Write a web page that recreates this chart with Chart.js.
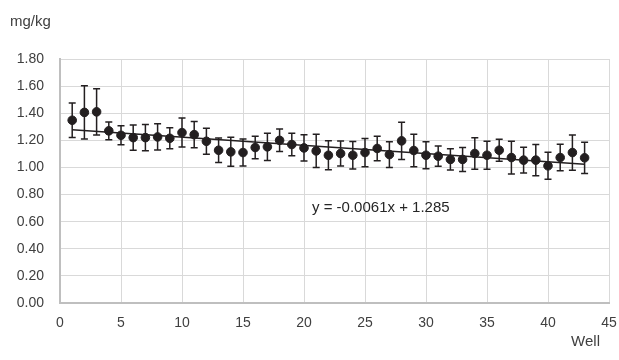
<!DOCTYPE html>
<html>
<head>
<meta charset="utf-8">
<script src="https://cdn.jsdelivr.net/npm/chart.js@4/dist/chart.umd.min.js"></script>
<style>
  html, body { margin: 0; padding: 0; background: #fff; }
  #wrap { width: 619px; height: 360px; position: relative; }
</style>
</head>
<body>
<div id="wrap"><canvas id="wellChart"></canvas></div>
<script>
const wells = [1,2,3,4,5,6,7,8,9,10,11,12,13,14,15,16,17,18,19,20,21,22,23,24,25,26,27,28,29,30,31,32,33,34,35,36,37,38,39,40,41,42,43];
const means = [1.348,1.406,1.41,1.27,1.237,1.22,1.22,1.225,1.215,1.257,1.242,1.193,1.127,1.115,1.11,1.147,1.152,1.2,1.169,1.144,1.122,1.09,1.103,1.09,1.11,1.14,1.095,1.196,1.125,1.09,1.083,1.059,1.059,1.103,1.09,1.127,1.073,1.054,1.054,1.012,1.073,1.11,1.071];
const errors = [0.128,0.196,0.17,0.065,0.07,0.094,0.097,0.097,0.078,0.107,0.097,0.096,0.09,0.107,0.099,0.083,0.10,0.083,0.083,0.097,0.122,0.107,0.092,0.102,0.104,0.09,0.095,0.137,0.12,0.099,0.075,0.078,0.088,0.116,0.103,0.081,0.121,0.095,0.115,0.10,0.098,0.13,0.115];

// linear trend shown on the chart
const trendSlope = -0.0061;
const trendIntercept = 1.285;
const trendLabel = 'y = -0.0061x + 1.285';

const xTicks = [0, 5, 10, 15, 20, 25, 30, 35, 40, 45];
const yTicks = [0, 0.2, 0.4, 0.6, 0.8, 1.0, 1.2, 1.4, 1.6, 1.8];

const points = wells.map((w, i) => ({ x: w, y: means[i] }));
const xFirst = wells[0], xLast = wells[wells.length - 1];
const trendPoints = [
    { x: xFirst, y: trendSlope * xFirst + trendIntercept },
    { x: xLast, y: trendSlope * xLast + trendIntercept }
];

const FONT = '"Liberation Sans", Arial, sans-serif';
const TEXT = '#404040';

// error bars drawn from the scales
const errorBars = {
    id: 'errorBars',
    afterDatasetsDraw(chart) {
        const { ctx, scales: { x, y } } = chart;
        ctx.save();
        ctx.strokeStyle = '#231f20';
        ctx.lineWidth = 1.5;
        wells.forEach((w, i) => {
            const px = x.getPixelForValue(w);
            const top = y.getPixelForValue(means[i] + errors[i]);
            const bot = y.getPixelForValue(means[i] - errors[i]);
            ctx.beginPath();
            ctx.moveTo(px, top); ctx.lineTo(px, bot);
            ctx.moveTo(px - 3.5, top); ctx.lineTo(px + 3.5, top);
            ctx.moveTo(px - 3.5, bot); ctx.lineTo(px + 3.5, bot);
            ctx.stroke();
        });
        ctx.restore();
    }
};

// unit, axis name and trend equation
const labels = {
    id: 'labels',
    afterDraw(chart) {
        const { ctx } = chart;
        ctx.save();
        ctx.fillStyle = TEXT;
        ctx.textBaseline = 'middle';
        ctx.font = '15px ' + FONT;
        ctx.textAlign = 'left';
        ctx.fillText('mg/kg', 10, 22);
        ctx.textAlign = 'right';
        ctx.fillText('Well', 600, 342);
        ctx.textAlign = 'left';
        ctx.fillStyle = '#262626';
        ctx.fillText(trendLabel, 312, 208);
        ctx.restore();
    }
};

new Chart(document.getElementById('wellChart'), {
    type: 'scatter',
    data: {
        datasets: [
            {
                label: 'trend',
                type: 'line',
                data: trendPoints,
                borderColor: '#231f20',
                borderWidth: 1.5,
                pointRadius: 0,
                fill: false
            },
            {
                label: 'mean',
                data: points,
                backgroundColor: '#231f20',
                borderColor: '#231f20',
                pointRadius: 4.3,
                pointHoverRadius: 4.3
            }
        ]
    },
    options: {
        responsive: true,
        maintainAspectRatio: false,
        animation: false,
        events: [],
        layout: { padding: { top: 59, right: 0, bottom: 0, left: 0 } },
        plugins: { legend: { display: false }, tooltip: { enabled: false } },
        scales: {
            x: {
                type: 'linear',
                min: 0, max: 45,
                afterBuildTicks: s => { s.ticks = xTicks.map(v => ({ value: v })); },
                afterFit: s => { s.height = 57; s.paddingLeft = 0; s.paddingRight = 10; },
                grid: { color: '#d9d9d9', lineWidth: 1, drawTicks: false },
                border: { color: '#bfbfbf', width: 2 },
                ticks: { padding: 12, color: TEXT, font: { family: FONT, size: 14 }, maxRotation: 0 }
            },
            y: {
                min: 0, max: 1.8,
                afterBuildTicks: s => { s.ticks = yTicks.map(v => ({ value: v })); },
                afterFit: s => { s.width = 60; },
                grid: { color: '#d9d9d9', lineWidth: 1, drawTicks: false },
                border: { color: '#bfbfbf', width: 2 },
                ticks: { padding: 16, color: TEXT, font: { family: FONT, size: 14 }, callback: v => v.toFixed(2) }
            }
        }
    },
    plugins: [errorBars, labels]
});
</script>
</body>
</html>
